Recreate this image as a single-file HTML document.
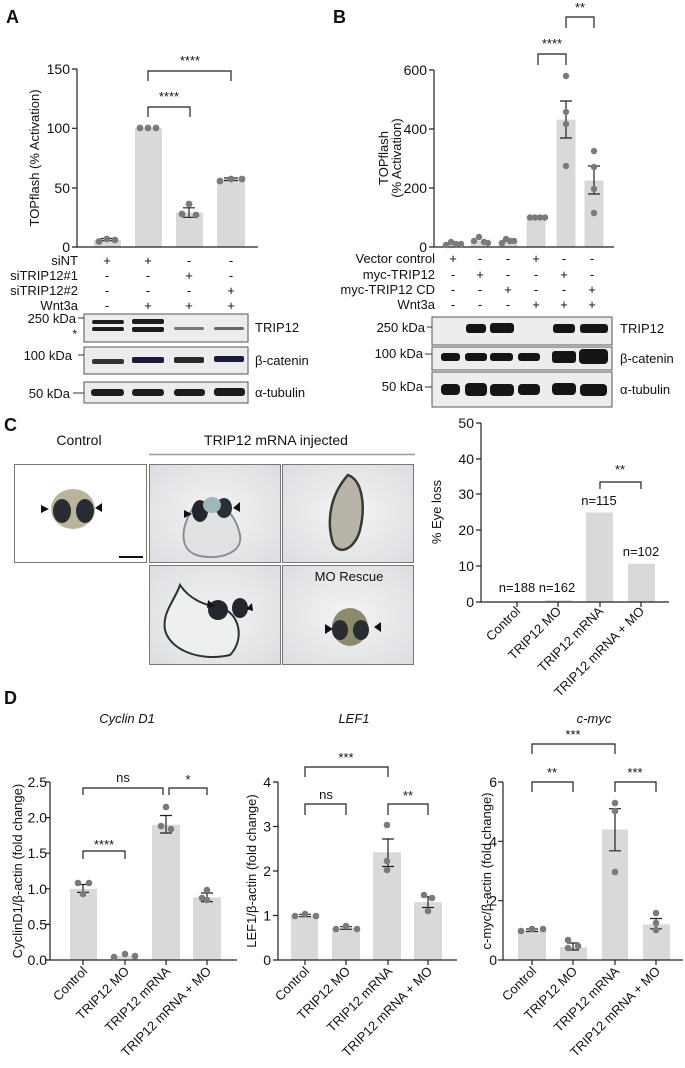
<!DOCTYPE html>
<html><head><meta charset="utf-8"><style>
html,body{margin:0;padding:0;background:#fff}
svg{display:block}
text{font-family:"Liberation Sans",Arial,sans-serif;fill:#111}
.t{font-size:13px}
.k{font-size:14px}
.s{font-size:12px}
.b{font-size:18px;font-weight:bold}
.i{font-style:italic}
</style></head><body>
<svg width="685" height="1068" viewBox="0 0 685 1068" xmlns="http://www.w3.org/2000/svg">
<defs>
<radialGradient id="bgg" cx="50%" cy="50%" r="70%"><stop offset="0" stop-color="#f4f4f6"/><stop offset="1" stop-color="#dcdde0"/></radialGradient>
</defs>
<!-- ============ PANEL A ============ -->
<text class="b" x="6" y="23">A</text>
<g fill="#d9d9d9">
<rect x="94" y="240" width="27" height="7"/>
<rect x="135" y="128.3" width="27" height="118.7"/>
<rect x="176" y="212.6" width="27" height="34.4"/>
<rect x="217" y="179.3" width="28" height="67.7"/>
</g>
<g stroke="#222" stroke-width="1.2" fill="none">
<path d="M77 69V247H258"/>
<path d="M72 69H77M72 128.3H77M72 188H77M72 247H77"/>
<path d="M148 81V71H231V81"/>
<path d="M148 117V107H190V117"/>
<path d="M183 217.3H195M189 217.3V207.8M183 207.8H195"/>
<path d="M224 180.5H238M224 178H238"/>
<path d="M101 240.7H113M101 238.5H113"/>
</g>
<g fill="#7a7a7a">
<circle cx="99" cy="241.5" r="3.4"/><circle cx="107" cy="239" r="3.4"/><circle cx="115" cy="240" r="3.4"/>
<circle cx="140" cy="128" r="3.4"/><circle cx="148" cy="128" r="3.4"/><circle cx="156" cy="128" r="3.4"/>
<circle cx="182" cy="214" r="3.4"/><circle cx="189" cy="204" r="3.4"/><circle cx="196" cy="215" r="3.4"/>
<circle cx="220" cy="181" r="3.4"/><circle cx="231" cy="179" r="3.4"/><circle cx="242" cy="179" r="3.4"/>
</g>
<g class="k" text-anchor="end">
<text x="70" y="74">150</text><text x="70" y="133">100</text><text x="70" y="193">50</text><text x="70" y="252">0</text>
</g>
<text class="t" transform="translate(39,158) rotate(-90)" text-anchor="middle">TOPflash (% Activation)</text>
<g class="t" text-anchor="middle">
<text x="190" y="65">****</text><text x="169" y="101">****</text>
</g>
<g class="t" text-anchor="end">
<text x="78" y="265">siNT</text><text x="78" y="280">siTRIP12#1</text><text x="78" y="295">siTRIP12#2</text><text x="78" y="310">Wnt3a</text>
</g>
<g class="t" text-anchor="middle">
<text x="107" y="265">+</text><text x="148" y="265">+</text><text x="189" y="265">-</text><text x="231" y="265">-</text>
<text x="107" y="280">-</text><text x="148" y="280">-</text><text x="189" y="280">+</text><text x="231" y="280">-</text>
<text x="107" y="295">-</text><text x="148" y="295">-</text><text x="189" y="295">-</text><text x="231" y="295">+</text>
<text x="107" y="310">-</text><text x="148" y="310">+</text><text x="189" y="310">+</text><text x="231" y="310">+</text>
</g>
<!-- blots A -->
<g stroke="#555" stroke-width="1" fill="#ececec">
<rect x="84" y="314" width="164" height="28"/>
<rect x="84" y="347" width="164" height="27"/>
<rect x="84" y="382" width="164" height="21"/>
</g>
<g fill="#1c1c1c">
<rect x="92" y="320" width="32" height="4" rx="2"/><rect x="132" y="319" width="32" height="5" rx="2"/>
<rect x="92" y="327" width="32" height="4" rx="2"/><rect x="132" y="327" width="32" height="5" rx="2"/>
<rect x="174" y="327" width="30" height="3" rx="1.5" fill="#777"/><rect x="214" y="327" width="30" height="3" rx="1.5" fill="#666"/>
<rect x="92" y="359" width="32" height="5" rx="2" fill="#333"/><rect x="132" y="357" width="32" height="6" rx="2" fill="#1a1a3a"/>
<rect x="174" y="357" width="30" height="6" rx="2" fill="#2a2a2a"/><rect x="214" y="356" width="30" height="6" rx="2" fill="#1a1a3a"/>
<rect x="91" y="389" width="33" height="7" rx="3"/><rect x="132" y="389" width="32" height="7" rx="3"/>
<rect x="174" y="389" width="31" height="7" rx="3"/><rect x="214" y="388" width="31" height="8" rx="3"/>
</g>
<g stroke="#333" stroke-width="1"><path d="M78 318H84M78 355H84M73 393H84"/></g>
<g class="t" text-anchor="end">
<text x="76" y="323">250 kDa</text><text x="72" y="360">100 kDa</text><text x="70" y="398">50 kDa</text>
</g>
<text class="s" x="77" y="338" text-anchor="end">*</text>
<g class="t"><text x="255" y="332">TRIP12</text><text x="255" y="365">β-catenin</text><text x="255" y="397">α-tubulin</text></g>

<!-- ============ PANEL B ============ -->
<text class="b" x="333" y="23">B</text>
<g fill="#d9d9d9">
<rect x="443.5" y="244" width="19" height="3"/>
<rect x="470.5" y="241" width="19" height="6"/>
<rect x="498.5" y="241.7" width="19" height="5.3"/>
<rect x="526.5" y="217.5" width="19" height="29.5"/>
<rect x="556.5" y="119.6" width="19" height="127.4"/>
<rect x="584.5" y="180.6" width="19" height="66.4"/>
</g>
<g stroke="#222" stroke-width="1.2" fill="none">
<path d="M434 70V247H614"/>
<path d="M429 70H434M429 129H434M429 188H434M429 247H434"/>
<path d="M538 65V54H566V65"/>
<path d="M566 28V17H594V28"/>
<path d="M560 101H572M566 101V138M560 138H572"/>
<path d="M588 166H600M594 166V194M588 194H600"/>
</g>
<g fill="#7a7a7a">
<circle cx="446" cy="245" r="3.2"/><circle cx="451" cy="242" r="3.2"/><circle cx="456" cy="244" r="3.2"/><circle cx="461" cy="244" r="3.2"/>
<circle cx="474" cy="241" r="3.2"/><circle cx="479" cy="237" r="3.2"/><circle cx="484" cy="242" r="3.2"/><circle cx="488" cy="243" r="3.2"/>
<circle cx="502" cy="243" r="3.2"/><circle cx="506" cy="239" r="3.2"/><circle cx="510" cy="241" r="3.2"/><circle cx="514" cy="241" r="3.2"/>
<circle cx="530" cy="217.5" r="3.2"/><circle cx="535" cy="217.5" r="3.2"/><circle cx="540" cy="217.5" r="3.2"/><circle cx="545" cy="217.5" r="3.2"/>
<circle cx="566" cy="76" r="3.2"/><circle cx="566" cy="112" r="3.2"/><circle cx="566" cy="124" r="3.2"/><circle cx="566" cy="166" r="3.2"/>
<circle cx="594" cy="151" r="3.2"/><circle cx="594" cy="167" r="3.2"/><circle cx="594" cy="189" r="3.2"/><circle cx="594" cy="213" r="3.2"/>
</g>
<g class="k" text-anchor="end">
<text x="427" y="75">600</text><text x="427" y="134">400</text><text x="427" y="193">200</text><text x="427" y="252">0</text>
</g>
<text class="t" transform="translate(388,158) rotate(-90)" text-anchor="middle">TOPflash</text>
<text class="t" transform="translate(401,158) rotate(-90)" text-anchor="middle">(% Activation)</text>
<g class="t" text-anchor="middle"><text x="552" y="48">****</text><text x="580" y="12">**</text></g>
<g class="t" text-anchor="end">
<text x="435" y="263">Vector control</text><text x="435" y="279">myc-TRIP12</text><text x="435" y="294">myc-TRIP12 CD</text><text x="435" y="309">Wnt3a</text>
</g>
<g class="t" text-anchor="middle">
<text x="453" y="263">+</text><text x="480" y="263">-</text><text x="508" y="263">-</text><text x="536" y="263">+</text><text x="564" y="263">-</text><text x="592" y="263">-</text>
<text x="453" y="279">-</text><text x="480" y="279">+</text><text x="508" y="279">-</text><text x="536" y="279">-</text><text x="564" y="279">+</text><text x="592" y="279">-</text>
<text x="453" y="294">-</text><text x="480" y="294">-</text><text x="508" y="294">+</text><text x="536" y="294">-</text><text x="564" y="294">-</text><text x="592" y="294">+</text>
<text x="453" y="309">-</text><text x="480" y="309">-</text><text x="508" y="309">-</text><text x="536" y="309">+</text><text x="564" y="309">+</text><text x="592" y="309">+</text>
</g>
<g stroke="#555" stroke-width="1" fill="#ededed">
<rect x="432" y="317" width="180" height="28"/>
<rect x="432" y="347" width="180" height="23"/>
<rect x="432" y="372" width="180" height="35"/>
</g>
<g fill="#141414">
<rect x="466" y="324" width="20" height="9" rx="3"/><rect x="490" y="323" width="24" height="10" rx="3"/>
<rect x="553" y="324" width="22" height="9" rx="3"/><rect x="580" y="324" width="28" height="9" rx="3"/>
<rect x="441" y="353" width="19" height="8" rx="3"/><rect x="465" y="353" width="22" height="8" rx="3"/><rect x="490" y="353" width="23" height="8" rx="3"/>
<rect x="518" y="353" width="22" height="8" rx="3"/><rect x="552" y="351" width="24" height="12" rx="3"/><rect x="579" y="349" width="29" height="15" rx="4"/>
<rect x="441" y="384" width="19" height="11" rx="4"/><rect x="465" y="383" width="22" height="13" rx="4"/><rect x="490" y="384" width="24" height="12" rx="4"/>
<rect x="518" y="384" width="22" height="11" rx="4"/><rect x="552" y="383" width="24" height="12" rx="4"/><rect x="580" y="384" width="27" height="12" rx="4"/>
</g>
<g stroke="#333" stroke-width="1"><path d="M427 327H432M425 354H432M425 387H432"/></g>
<g class="t" text-anchor="end">
<text x="425" y="332">250 kDa</text><text x="423" y="358">100 kDa</text><text x="423" y="391">50 kDa</text>
</g>
<g class="t"><text x="620" y="333">TRIP12</text><text x="620" y="363">β-catenin</text><text x="620" y="394">α-tubulin</text></g>

<!-- ============ PANEL C ============ -->
<text class="b" x="4" y="431">C</text>
<text class="t" x="79" y="445" text-anchor="middle" style="font-size:14px">Control</text>
<text class="t" x="276" y="445" text-anchor="middle" style="font-size:14px">TRIP12 mRNA injected</text>
<line x1="149" y1="454.5" x2="415" y2="454.5" stroke="#999" stroke-width="1.5"/>
<rect x="14.5" y="464.5" width="132" height="98" fill="#fff" stroke="#777"/>
<rect x="149.5" y="464.5" width="131" height="98" fill="url(#bgg)" stroke="#777"/>
<rect x="282.5" y="464.5" width="131" height="98" fill="url(#bgg)" stroke="#777"/>
<rect x="149.5" y="565.5" width="131" height="99" fill="url(#bgg)" stroke="#777"/>
<rect x="282.5" y="565.5" width="131" height="99" fill="url(#bgg)" stroke="#777"/>
<ellipse cx="73" cy="509" rx="22" ry="20" fill="#b9b49a"/>
<ellipse cx="62" cy="511" rx="9" ry="12" fill="#2a2c33"/><ellipse cx="85" cy="511" rx="9" ry="12" fill="#2a2c33"/>
<path d="M41 505L49 509L41 513Z M102 503L95 508L102 512Z" fill="#111"/>
<line x1="119" y1="557" x2="143" y2="557" stroke="#111" stroke-width="2"/>
<path d="M195 505C215 495 235 510 240 535C243 552 222 560 200 556C180 552 178 530 195 505Z" fill="#e0e2e3" stroke="#8a8f93" stroke-width="2"/>
<ellipse cx="200" cy="511" rx="8" ry="11" fill="#23262c"/><ellipse cx="224" cy="508" rx="8" ry="10" fill="#2a2f36"/>
<ellipse cx="212" cy="505" rx="9" ry="8" fill="#9fb6bb"/>
<path d="M184 510L192 514L184 518Z M240 502L233 508L240 512Z" fill="#111"/>
<path d="M348 475C362 480 366 505 360 530C354 552 336 556 332 540C327 520 330 495 348 475Z" fill="#b8b4a8" stroke="#3a3a34" stroke-width="2.5"/>
<path d="M180 585C190 600 205 605 220 608C240 612 245 640 230 655C200 662 170 650 165 630C162 612 175 600 180 585Z" fill="#eef0ee" stroke="#2b3330" stroke-width="2"/>
<ellipse cx="218" cy="610" rx="10" ry="10" fill="#23262c"/><ellipse cx="240" cy="608" rx="8" ry="10" fill="#23262c"/>
<path d="M208 600L215 606L207 608Z M252 603L246 609L253 611Z" fill="#111"/>
<text class="t" x="349" y="581" text-anchor="middle">MO Rescue</text>
<ellipse cx="350" cy="627" rx="18" ry="19" fill="#8e8a6c"/>
<ellipse cx="340" cy="630" rx="8" ry="10" fill="#2a2c33"/><ellipse cx="361" cy="630" rx="8" ry="10" fill="#2a2c33"/>
<path d="M325 624L333 629L325 634Z M381 622L374 627L381 632Z" fill="#111"/>
<!-- chart C -->
<g fill="#d9d9d9">
<rect x="545" y="600.2" width="27" height="1.8"/>
<rect x="586" y="512.5" width="27" height="89.5"/>
<rect x="628" y="563.7" width="27" height="38.3"/>
</g>
<g stroke="#222" stroke-width="1.2" fill="none">
<path d="M481 423V602H669"/>
<path d="M476 423H481M476 459H481M476 494H481M476 530H481M476 566H481M476 602H481"/>
<path d="M517 602V607M558 602V607M600 602V607M641 602V607"/>
<path d="M600 489V482H641V489"/>
</g>
<g class="k" text-anchor="end">
<text x="474" y="428">50</text><text x="474" y="464">40</text><text x="474" y="499">30</text><text x="474" y="535">20</text><text x="474" y="571">10</text><text x="474" y="607">0</text>
</g>
<text class="t" transform="translate(441,512) rotate(-90)" text-anchor="middle">% Eye loss</text>
<g class="t" text-anchor="middle">
<text x="517" y="592">n=188</text><text x="557" y="592">n=162</text><text x="599" y="505">n=115</text><text x="641" y="556">n=102</text>
<text x="620" y="474">**</text>
</g>
<g class="t" text-anchor="end">
<text transform="translate(521,612) rotate(-45)">Control</text>
<text transform="translate(562,612) rotate(-45)">TRIP12 MO</text>
<text transform="translate(604,612) rotate(-45)">TRIP12 mRNA</text>
<text transform="translate(645,612) rotate(-45)">TRIP12 mRNA + MO</text>
</g>

<!-- ============ PANEL D ============ -->
<text class="b" x="4" y="704">D</text>
<g class="t i" text-anchor="middle">
<text x="127" y="723">Cyclin D1</text><text x="354" y="723">LEF1</text><text x="594" y="723">c-myc</text>
</g>
<!-- Cyclin D1 -->
<g fill="#d9d9d9">
<rect x="70" y="888.8" width="27" height="71.2"/>
<rect x="111" y="955.7" width="27" height="4.3"/>
<rect x="152" y="824.7" width="28" height="135.3"/>
<rect x="193" y="897.3" width="28" height="62.7"/>
</g>
<g stroke="#222" stroke-width="1.2" fill="none">
<path d="M50 782V960H237"/>
<path d="M45 782H50M45 817.6H50M45 853.2H50M45 888.8H50M45 924.4H50M45 960H50"/>
<path d="M83 960V965M125 960V965M166 960V965M207 960V965"/>
<path d="M83 795V788H163V795M169 795V788H207V795"/>
<path d="M83 859V851H125V859"/>
<path d="M77 884.5H89M83 884.5V892.4M77 892.4H89"/>
<path d="M160 815.5H172M166 815.5V833M160 833H172"/>
<path d="M201 893H213M207 893V901.6M201 901.6H213"/>
</g>
<g fill="#7a7a7a">
<circle cx="78" cy="883" r="3.3"/><circle cx="89" cy="883" r="3.3"/><circle cx="83" cy="894" r="3.3"/>
<circle cx="114" cy="957" r="3.3"/><circle cx="125" cy="954" r="3.3"/><circle cx="135" cy="956" r="3.3"/>
<circle cx="166" cy="807" r="3.3"/><circle cx="161" cy="826" r="3.3"/><circle cx="171" cy="829" r="3.3"/>
<circle cx="207" cy="890" r="3.3"/><circle cx="207" cy="900" r="3.3"/><circle cx="202" cy="898" r="3.3"/>
</g>
<g class="k" text-anchor="end">
<text x="47" y="787">2.5</text><text x="47" y="822.6">2.0</text><text x="47" y="858.2">1.5</text><text x="47" y="893.8">1.0</text><text x="47" y="929.4">0.5</text><text x="47" y="965">0.0</text>
</g>
<text class="t" transform="translate(22,871) rotate(-90)" text-anchor="middle">CyclinD1/β-actin (fold change)</text>
<g class="t" text-anchor="middle"><text x="123" y="782">ns</text><text x="188" y="784">*</text><text x="104" y="849">****</text></g>
<g class="t" text-anchor="end">
<text transform="translate(88,972) rotate(-45)">Control</text>
<text transform="translate(130,972) rotate(-45)">TRIP12 MO</text>
<text transform="translate(171,972) rotate(-45)">TRIP12 mRNA</text>
<text transform="translate(212,972) rotate(-45)">TRIP12 mRNA + MO</text>
</g>
<!-- LEF1 -->
<g fill="#d9d9d9">
<rect x="291" y="915.5" width="27" height="44.5"/>
<rect x="332" y="928" width="28" height="32"/>
<rect x="373" y="852.3" width="28" height="107.7"/>
<rect x="414" y="902.2" width="28" height="57.8"/>
</g>
<g stroke="#222" stroke-width="1.2" fill="none">
<path d="M278 782V960H457"/>
<path d="M273 782H278M273 826.5H278M273 871H278M273 915.5H278M273 960H278"/>
<path d="M305 960V965M346 960V965M388 960V965M428 960V965"/>
<path d="M305 777V767H388V777"/>
<path d="M305 815V804H346V815M388 815V804H428V815"/>
<path d="M299 914.3H311M299 916.7H311"/>
<path d="M340 926.7H352M340 929.3H352"/>
<path d="M382 839H394M388 839V866.5M382 866.5H394"/>
<path d="M422 896.8H434M428 896.8V907.5M422 907.5H434"/>
</g>
<g fill="#7a7a7a">
<circle cx="295" cy="916" r="3.3"/><circle cx="305" cy="914" r="3.3"/><circle cx="316" cy="916" r="3.3"/>
<circle cx="336" cy="929" r="3.3"/><circle cx="346" cy="926" r="3.3"/><circle cx="357" cy="929" r="3.3"/>
<circle cx="387" cy="825" r="3.3"/><circle cx="387" cy="861" r="3.3"/><circle cx="387" cy="870" r="3.3"/>
<circle cx="424" cy="895" r="3.3"/><circle cx="432" cy="898" r="3.3"/><circle cx="428" cy="911" r="3.3"/>
</g>
<g class="k" text-anchor="end">
<text x="271" y="787">4</text><text x="271" y="831.5">3</text><text x="271" y="876">2</text><text x="271" y="920.5">1</text><text x="271" y="965">0</text>
</g>
<text class="t" transform="translate(256,871) rotate(-90)" text-anchor="middle">LEF1/β-actin (fold change)</text>
<g class="t" text-anchor="middle"><text x="346" y="762">***</text><text x="326" y="799">ns</text><text x="408" y="800">**</text></g>
<g class="t" text-anchor="end">
<text transform="translate(310,972) rotate(-45)">Control</text>
<text transform="translate(351,972) rotate(-45)">TRIP12 MO</text>
<text transform="translate(393,972) rotate(-45)">TRIP12 mRNA</text>
<text transform="translate(433,972) rotate(-45)">TRIP12 mRNA + MO</text>
</g>
<!-- c-myc -->
<g fill="#d9d9d9">
<rect x="518" y="930.3" width="28" height="29.7"/>
<rect x="560" y="947.2" width="27" height="12.8"/>
<rect x="602" y="829.5" width="26" height="130.5"/>
<rect x="643" y="924.4" width="27" height="35.6"/>
</g>
<g stroke="#222" stroke-width="1.2" fill="none">
<path d="M503 782V960H683"/>
<path d="M498 782H503M498 841.3H503M498 900.7H503M498 960H503"/>
<path d="M532 960V965M573 960V965M615 960V965M656 960V965"/>
<path d="M532 754V744H615V754"/>
<path d="M532 792V782H573V792M615 792V782H656V792"/>
<path d="M526 929H538M526 931.5H538"/>
<path d="M567 943H579M573 943V950M567 950H579"/>
<path d="M609 808.7H621M615 808.7V850.8M609 850.8H621"/>
<path d="M650 918.5H662M656 918.5V928.8M650 928.8H662"/>
</g>
<g fill="#7a7a7a">
<circle cx="521" cy="931" r="3.3"/><circle cx="532" cy="929" r="3.3"/><circle cx="543" cy="929" r="3.3"/>
<circle cx="568" cy="948" r="3.3"/><circle cx="568" cy="940" r="3.3"/><circle cx="578" cy="946" r="3.3"/>
<circle cx="615" cy="803" r="3.3"/><circle cx="615" cy="811" r="3.3"/><circle cx="615" cy="872" r="3.3"/>
<circle cx="656" cy="913" r="3.3"/><circle cx="656" cy="923" r="3.3"/><circle cx="656" cy="930" r="3.3"/>
</g>
<g class="k" text-anchor="end">
<text x="497" y="787">6</text><text x="497" y="846.3">4</text><text x="497" y="905.7">2</text><text x="497" y="965">0</text>
</g>
<text class="t" transform="translate(491,871) rotate(-90)" text-anchor="middle">c-myc/β-actin (fold change)</text>
<g class="t" text-anchor="middle"><text x="573" y="739">***</text><text x="552" y="777">**</text><text x="635" y="777">***</text></g>
<g class="t" text-anchor="end">
<text transform="translate(537,972) rotate(-45)">Control</text>
<text transform="translate(578,972) rotate(-45)">TRIP12 MO</text>
<text transform="translate(620,972) rotate(-45)">TRIP12 mRNA</text>
<text transform="translate(661,972) rotate(-45)">TRIP12 mRNA + MO</text>
</g>
</svg>
</body></html>
